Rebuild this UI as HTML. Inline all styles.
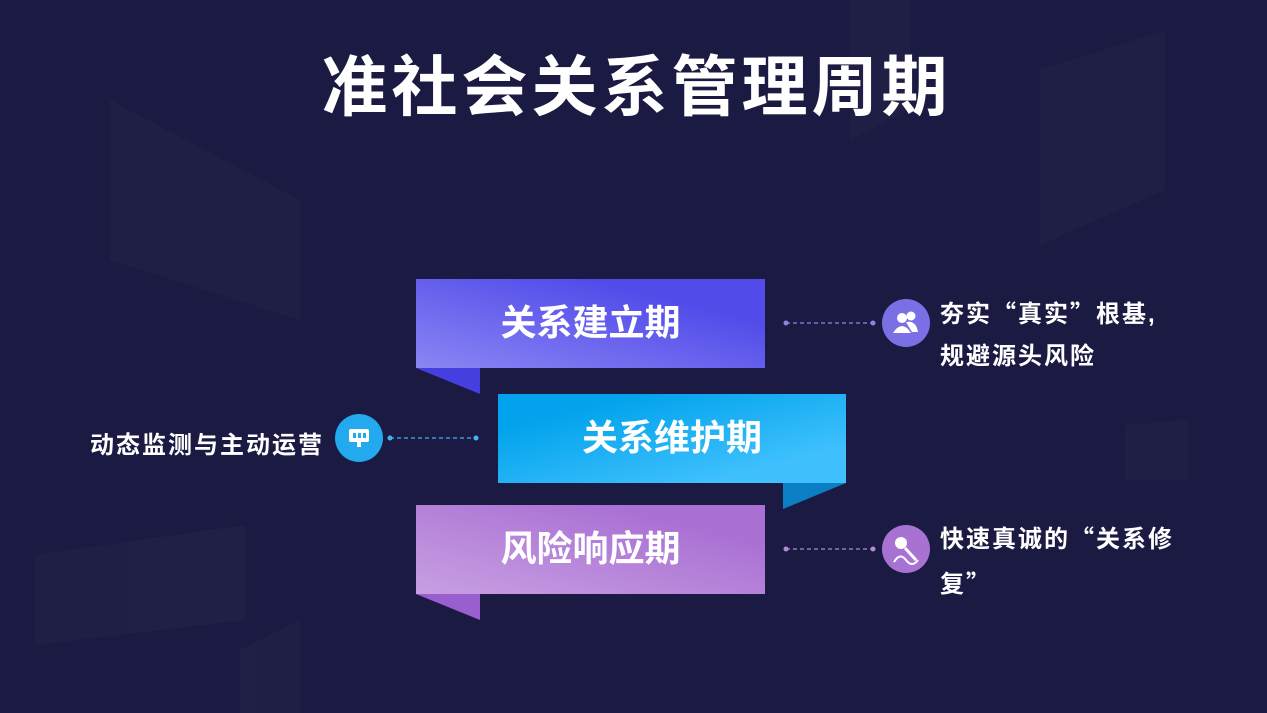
<!DOCTYPE html>
<html><head><meta charset="utf-8"><style>
body{margin:0;width:1267px;height:713px;overflow:hidden;background:#1b1a42;font-family:"Liberation Sans","Noto Sans CJK SC",sans-serif;position:relative}
.t{position:absolute;color:#fff;font-weight:bold;white-space:nowrap}
.q{font-family:"Noto Sans CJK SC",sans-serif}
</style></head><body>
<svg width="1267" height="713" style="position:absolute;left:0;top:0">
<defs>
<linearGradient id="g1" x1="0" y1="1" x2="1" y2="0"><stop offset="0" stop-color="#8a86f3"/><stop offset="0.75" stop-color="#524bea"/></linearGradient>
<linearGradient id="g2" x1="0" y1="0" x2="1" y2="1"><stop offset="0.2" stop-color="#02a3ec"/><stop offset="0.8" stop-color="#3fc0fd"/></linearGradient>
<linearGradient id="g3" x1="0" y1="1" x2="1" y2="0"><stop offset="0" stop-color="#c79fe2"/><stop offset="0.8" stop-color="#a96fd3"/></linearGradient>
</defs>
<g fill="#ffffff" opacity="0.018">
<polygon points="110,100 300,200 300,320 110,260"/>
<polygon points="35,555 245,525 245,620 35,645"/>
<polygon points="1040,70 1165,30 1165,190 1040,245"/>
<polygon points="1125,425 1188,420 1188,480 1125,480"/>
<polygon points="850,0 910,0 910,110 850,140"/>
<polygon points="240,650 300,620 300,713 240,713"/>
</g>
<rect x="416" y="279" width="349" height="89" fill="url(#g1)"/>
<polygon points="416,368 480,368 480,394" fill="#453fe0"/>
<rect x="498" y="394" width="348" height="89" fill="url(#g2)"/>
<polygon points="783,483 846,483 783,509" fill="#0a7fc4"/>
<rect x="416" y="505" width="349" height="89" fill="url(#g3)"/>
<polygon points="416,594 480,594 480,620" fill="#9a5fcf"/>
<g stroke-width="1.3" stroke-dasharray="4,3">
<line x1="786" y1="323" x2="873" y2="323" stroke="#8a86e6"/>
<line x1="390" y1="438" x2="476" y2="438" stroke="#3fb5f0"/>
<line x1="786" y1="549" x2="873" y2="549" stroke="#b489d8"/>
</g>
<circle cx="786" cy="323" r="2.5" fill="#8a86e6"/><circle cx="873" cy="323" r="2.5" fill="#8a86e6"/>
<circle cx="390" cy="438" r="2.5" fill="#3fb5f0"/><circle cx="476" cy="438" r="2.5" fill="#3fb5f0"/>
<circle cx="786" cy="549" r="2.5" fill="#b489d8"/><circle cx="873" cy="549" r="2.5" fill="#b489d8"/>
<circle cx="906" cy="323" r="24" fill="#7b6fe6"/>
<circle cx="359" cy="438" r="24" fill="#22a9ee"/>
<circle cx="906" cy="549" r="24" fill="#a872d3"/>
<g fill="#fff">
<circle cx="902" cy="318" r="5"/><path d="M893 333 q9-14 18 0z"/><circle cx="911" cy="316" r="4.5"/><path d="M906 322 q10-2 12 10h-6z"/>
<rect x="349" y="429" width="20" height="13" rx="2"/><rect x="357" y="442" width="4" height="5"/>
<circle cx="901" cy="543" r="6"/><line x1="905" y1="548" x2="916" y2="560" stroke="#fff" stroke-width="3"/>
<path d="M894 562 q6-10 12 -2 q6 8 12 0" stroke="#fff" stroke-width="2" fill="none"/>
</g>
<g fill="#22a9ee"><rect x="353" y="433" width="3" height="5"/><rect x="358" y="433" width="3" height="5"/><rect x="363" y="433" width="3" height="5"/></g>
</svg>
<div class="t" style="left:3px;width:1267px;text-align:center;top:47px;font-size:66px;letter-spacing:4px;line-height:80px">准社会关系管理周期</div>
<div class="t" style="left:416px;width:349px;text-align:center;top:300px;font-size:36px;letter-spacing:0px;line-height:46px">关系建立期</div>
<div class="t" style="left:498px;width:348px;text-align:center;top:415px;font-size:36px;letter-spacing:0px;line-height:46px">关系维护期</div>
<div class="t" style="left:416px;width:349px;text-align:center;top:526px;font-size:36px;letter-spacing:0px;line-height:46px">风险响应期</div>
<div class="t" style="left:940px;top:291px;font-size:24px;line-height:42px;letter-spacing:2px">夯实<span class="q">“</span>真实<span class="q">”</span>根基,<br>规避源头风险</div>
<div class="t" style="left:940px;top:516px;font-size:24px;line-height:42px;letter-spacing:2px">快速真诚的<span class="q">“</span>关系修<br>复<span class="q">”</span></div>
<div class="t" style="left:40px;width:284px;text-align:right;top:430px;font-size:24px;line-height:32px;letter-spacing:2px">动态监测与主动运营</div>
</body></html>
